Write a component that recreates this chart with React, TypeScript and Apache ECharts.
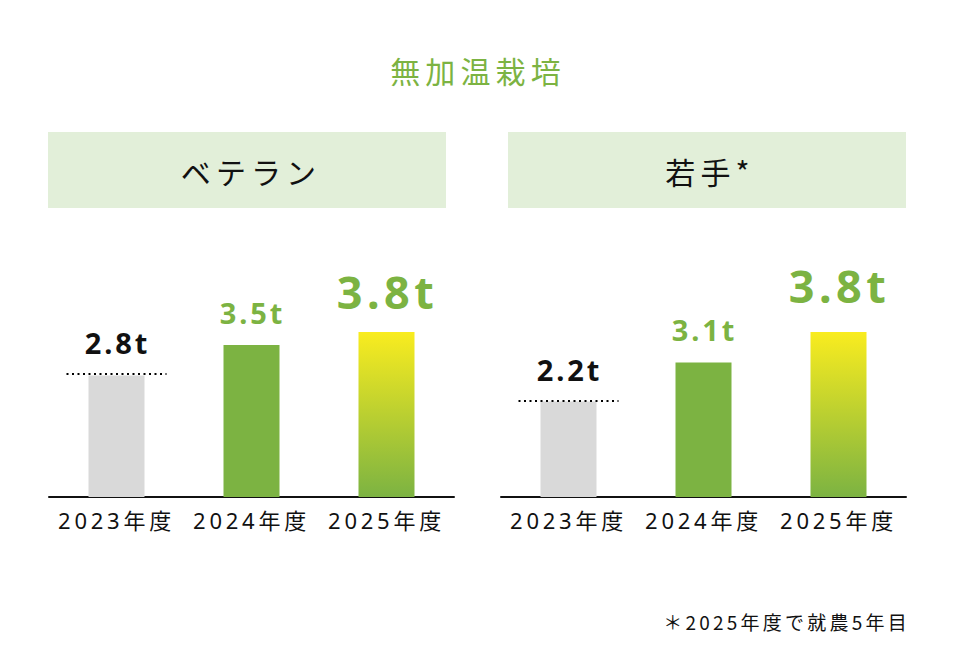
import * as echarts from 'echarts';
import React, { useEffect, useRef } from 'react';

// 年度ごとの収量 (t)
const categories = ['2023年度', '2024年度', '2025年度'];
const veteranValues = [2.8, 3.5, 3.8];
const youngValues = [2.2, 3.1, 3.8];
const panelTitles = ['ベテラン', '若手*'];
const chartTitle = '無加温栽培';
const footnote = '＊2025年度で就農5年目';

const GREEN = '#7cb342';
const FONT = '"Noto Sans", "Noto Sans CJK JP", sans-serif';
const JP_FONT = '"Noto Sans CJK JP", sans-serif';

// 文字間隔（svg の text に css で付ける）
const spacingCss = `
#chart text { letter-spacing: 0.17em; }
#chart text[style*="bold"] { letter-spacing: 0.1em; }
`;

const barData = (values: number[], bigDistance: number) =>
  values.map((v, i) => {
    const color =
      i === 0
        ? '#d9d9d9'
        : i === 1
        ? GREEN
        : new echarts.graphic.LinearGradient(0, 0, 0, 1, [
            { offset: 0, color: '#f9ec1f' },
            { offset: 1, color: GREEN },
          ]);
    return {
      value: v,
      itemStyle: { color },
      label: {
        show: true,
        position: 'top',
        distance: i === 2 ? bigDistance : 18,
        offset: [1, 0],
        formatter: '{c}t',
        fontFamily: FONT,
        fontWeight: 'bold',
        fontSize: i === 2 ? 45 : 29,
        color: i === 0 ? '#111' : GREEN,
      },
    };
  });

// 2023年度の点線（基準線）
const baselineLine = (params: any, api: any) => {
  const p = api.coord([api.value(0), api.value(1)]);
  const y = Math.round(p[1]) - 1;
  return {
    type: 'line',
    shape: { x1: p[0] - 50, y1: y, x2: p[0] + 50, y2: y },
    style: { stroke: '#000', lineWidth: 2, lineDash: [2, 3.5] },
  };
};

const App: React.FC = () => {
  const chartRef = useRef<HTMLDivElement>(null);

  useEffect(() => {
    const myChart = echarts.init(chartRef.current!, null, { renderer: 'svg' });

    const xAxisBase = {
      type: 'category',
      data: categories,
      axisTick: { show: false },
      axisLine: { lineStyle: { color: '#111', width: 2 } },
      axisLabel: { fontFamily: FONT, fontSize: 22, color: '#111', margin: 12 },
    };
    const yAxisBase = { type: 'value', min: 0, max: 5, show: false };

    const option = {
      animation: false,
      backgroundColor: '#fff',
      grid: [
        { left: 49, width: 405, top: 280, bottom: 171 },
        { left: 501, width: 405, top: 280, bottom: 171 },
      ],
      xAxis: [
        { ...xAxisBase, gridIndex: 0 },
        { ...xAxisBase, gridIndex: 1 },
      ],
      yAxis: [
        { ...yAxisBase, gridIndex: 0 },
        { ...yAxisBase, gridIndex: 1 },
      ],
      series: [
        {
          type: 'bar',
          xAxisIndex: 0,
          yAxisIndex: 0,
          barWidth: 56,
          data: barData(veteranValues, 18),
        },
        {
          type: 'bar',
          xAxisIndex: 1,
          yAxisIndex: 1,
          barWidth: 56,
          data: barData(youngValues, 24),
        },
        {
          type: 'custom',
          xAxisIndex: 0,
          yAxisIndex: 0,
          z: 5,
          renderItem: baselineLine,
          data: [[0, veteranValues[0]]],
        },
        {
          type: 'custom',
          xAxisIndex: 1,
          yAxisIndex: 1,
          z: 5,
          renderItem: baselineLine,
          data: [[0, youngValues[0]]],
        },
      ],
      graphic: [
        {
          type: 'text',
          x: 478,
          y: 70,
          style: {
            text: chartTitle,
            fontFamily: JP_FONT,
            fontSize: 30,
            fill: GREEN,
            align: 'center',
            verticalAlign: 'middle',
          },
        },
        {
          type: 'rect',
          shape: { x: 48, y: 132, width: 398, height: 76 },
          style: { fill: '#e2efd9' },
        },
        {
          type: 'rect',
          shape: { x: 508, y: 132, width: 398, height: 76 },
          style: { fill: '#e2efd9' },
        },
        {
          type: 'text',
          x: 251,
          y: 171,
          style: {
            text: panelTitles[0],
            fontFamily: JP_FONT,
            fontSize: 30,
            fill: '#111',
            align: 'center',
            verticalAlign: 'middle',
          },
        },
        {
          type: 'text',
          x: 710,
          y: 171,
          style: {
            text: panelTitles[1],
            fontFamily: JP_FONT,
            fontSize: 30,
            fill: '#111',
            align: 'center',
            verticalAlign: 'middle',
          },
        },
        {
          type: 'text',
          x: 910,
          y: 621,
          style: {
            text: footnote,
            fontFamily: JP_FONT,
            fontSize: 19,
            fill: '#111',
            align: 'right',
            verticalAlign: 'middle',
          },
        },
      ],
    };

    myChart.setOption(option);

    return () => {
      myChart.dispose();
    };
  }, []);

  return (
    <>
      <style>{spacingCss}</style>
      <div
        id="chart"
        ref={chartRef}
        style={{ position: 'fixed', left: 0, top: 0, width: '956px', height: '668px' }}
      />
    </>
  );
};

export default App;
